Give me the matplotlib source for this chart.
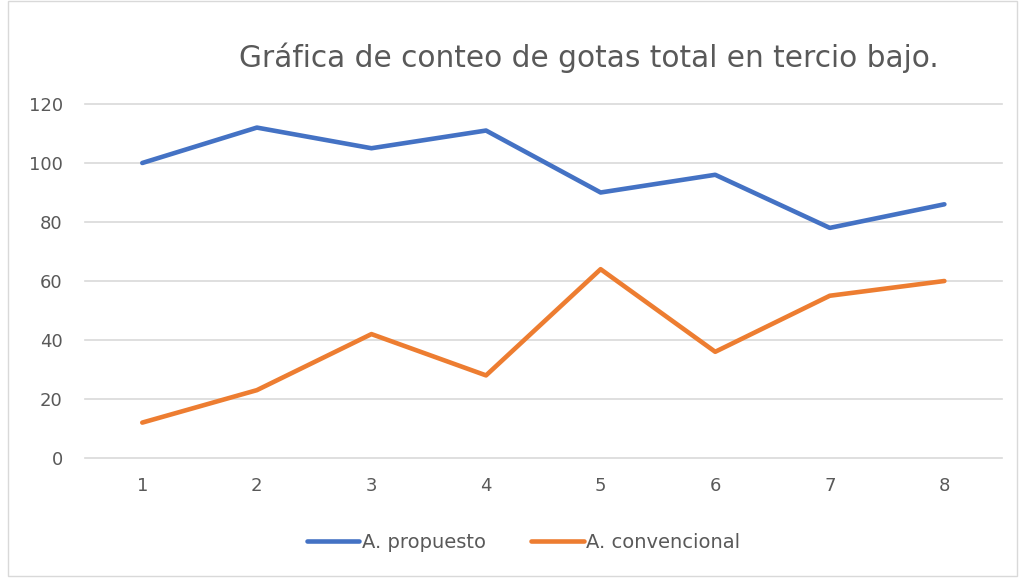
import matplotlib.pyplot as plt
from matplotlib.patches import Rectangle

# Data
muestras = [1, 2, 3, 4, 5, 6, 7, 8]
propuesto = [100, 112, 105, 111, 90, 96, 78, 86]
convencional = [12, 23, 42, 28, 64, 36, 55, 60]
y_ticks = [0, 20, 40, 60, 80, 100, 120]

titulo = 'Gráfica de conteo de gotas total en tercio bajo.'
gris = '#595959'

fig = plt.figure(figsize=(10.19, 5.78), dpi=100)
ax = fig.add_axes([0.0834, 0.2076, 0.8996, 0.6125])

ax.plot(muestras, propuesto, color='#4472C4', lw=3.3, label='A. propuesto', solid_capstyle='round')
ax.plot(muestras, convencional, color='#ED7D31', lw=3.3, label='A. convencional', solid_capstyle='round')

ax.set_xlim(0.5, 8.5)
ax.set_ylim(0, 120)
ax.set_yticks(y_ticks)
ax.set_xticks(muestras)
ax.grid(axis='y', color='#D9D9D9', lw=1.2, clip_on=False)
for gl in ax.get_ygridlines():
    gl.set_clip_on(False)
ax.set_axisbelow(True)
for s in ax.spines.values():
    s.set_visible(False)
ax.tick_params(length=0, labelsize=13, labelcolor=gris)
ax.tick_params(axis='y', pad=16)
ax.tick_params(axis='x', pad=14)

fig.text(0.5775, 0.90, titulo, ha='center', va='center', fontsize=21.3, color=gris)

fig.legend(loc='center', bbox_to_anchor=(0.514, 0.061), ncol=2, frameon=False,
           fontsize=14, labelcolor=gris, handlelength=2.7, handletextpad=0.15,
           columnspacing=2.3)

# thin border around the chart area
fig.patches.append(Rectangle((0.008, 0.004), 0.99, 0.994, transform=fig.transFigure,
                             fill=False, edgecolor='#D9D9D9', lw=1))

fig.savefig('out.png', dpi=100)
